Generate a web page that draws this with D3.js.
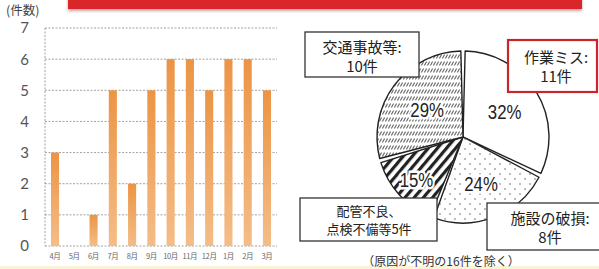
<!DOCTYPE html>
<html>
<head>
<meta charset="utf-8">
<script src="https://cdn.jsdelivr.net/npm/d3@7"></script>
<style>
  body { margin: 0; background: #fff; }
  svg { display: block; }
</style>
</head>
<body>
<svg id="chart" width="599" height="269"></svg>
<script>
// monthly counts
const months = ['4月', '5月', '6月', '7月', '8月', '9月', '10月', '11月', '12月', '1月', '2月', '3月'];
const counts = [3, 0, 1, 5, 2, 5, 6, 6, 5, 6, 6, 5];
const yTicks = [0, 1, 2, 3, 4, 5, 6, 7];

// causes (pie), clockwise from 12 o'clock
const causes = ['作業ミス', '施設の破損', '配管不良、点検不備等', '交通事故等'];
const causeCounts = [11, 8, 5, 10];
const causeFills = ['#fff', 'url(#dots)', 'url(#heavy)', 'url(#light)'];
const labelDist = [49, 50, 63, 45];

const svg = d3.select('#chart');
const defs = svg.append('defs');

// bar gradient
const grad = defs.append('linearGradient').attr('id', 'barGrad')
    .attr('x1', 0).attr('y1', 0).attr('x2', 0).attr('y2', 1);
grad.append('stop').attr('offset', '0%').attr('stop-color', '#ec9444');
grad.append('stop').attr('offset', '100%').attr('stop-color', '#f4bd88');

// patterns
const dots = defs.append('pattern').attr('id', 'dots').attr('patternUnits', 'userSpaceOnUse')
    .attr('width', 10).attr('height', 10);
dots.append('rect').attr('width', 10).attr('height', 10).attr('fill', '#fff');
dots.append('circle').attr('cx', 2).attr('cy', 2).attr('r', 0.8).attr('fill', '#666');
dots.append('circle').attr('cx', 7).attr('cy', 7).attr('r', 0.8).attr('fill', '#666');

const heavy = defs.append('pattern').attr('id', 'heavy').attr('patternUnits', 'userSpaceOnUse')
    .attr('width', 7).attr('height', 7).attr('patternTransform', 'rotate(40)');
heavy.append('rect').attr('width', 7).attr('height', 7).attr('fill', '#fff');
heavy.append('rect').attr('x', 0).attr('width', 3.2).attr('height', 7).attr('fill', '#222');

const light = defs.append('pattern').attr('id', 'light').attr('patternUnits', 'userSpaceOnUse')
    .attr('width', 3).attr('height', 7);
light.append('rect').attr('width', 3).attr('height', 7).attr('fill', '#fff');
light.append('line').attr('x1', 0.4).attr('y1', 5.5).attr('x2', 2.6).attr('y2', 1.5)
    .attr('stroke', '#6a6a6a').attr('stroke-width', 1.1);

const shadow = defs.append('filter').attr('id', 'shadow')
    .attr('x', '-5%').attr('y', '-50%').attr('width', '110%').attr('height', '250%');
shadow.append('feDropShadow').attr('dx', 0).attr('dy', 2).attr('stdDeviation', 1.6)
    .attr('flood-color', '#b88').attr('flood-opacity', 0.8);

// red banner at top
svg.append('rect')
    .attr('x', 68).attr('y', -6).attr('width', 514).attr('height', 15)
    .attr('fill', '#d8282b').attr('filter', 'url(#shadow)');

// faint strip at bottom
svg.append('rect').attr('x', 0).attr('y', 266).attr('width', 599).attr('height', 3)
    .attr('fill', '#fbf3d6');

// ---------- bar chart ----------
const x = d3.scaleBand().domain(months).range([45, 277])
    .paddingInner(0.58).paddingOuter(0.31);
const y = d3.scaleLinear().domain([0, 7]).range([246, 28]);

const gBar = svg.append('g');

gBar.selectAll('line.grid').data(yTicks).join('line')
    .attr('class', 'grid')
    .attr('x1', 45).attr('x2', 277)
    .attr('y1', d => y(d)).attr('y2', d => y(d))
    .attr('stroke', '#8a8a8a').attr('stroke-width', 0.8)
    .attr('stroke-dasharray', '2,1.5');

gBar.append('line')
    .attr('x1', 45).attr('x2', 45).attr('y1', y(7)).attr('y2', y(0))
    .attr('stroke', '#8a8a8a').attr('stroke-width', 0.8)
    .attr('stroke-dasharray', '2,1.5');

gBar.selectAll('rect.bar').data(counts).join('rect')
    .attr('class', 'bar')
    .attr('x', (d, i) => x(months[i]))
    .attr('width', x.bandwidth())
    .attr('y', d => y(d))
    .attr('height', d => y(0) - y(d))
    .attr('fill', 'url(#barGrad)');

gBar.selectAll('text.ytick').data(yTicks).join('text')
    .attr('class', 'ytick')
    .attr('x', 29).attr('y', d => y(d)).attr('dy', '0.36em')
    .attr('text-anchor', 'end')
    .attr('font-family', 'Lato, "Open Sans", sans-serif')
    .attr('font-size', 15).attr('fill', '#555')
    .text(d => d);

gBar.selectAll('text.month').data(months).join('text')
    .attr('class', 'month')
    .attr('x', d => x(d) + x.bandwidth() / 2).attr('y', 259)
    .attr('text-anchor', 'middle')
    .attr('font-family', '"Noto Sans CJK JP", sans-serif')
    .attr('font-size', 7.5).attr('fill', '#666')
    .attr('letter-spacing', -0.4)
    .text(d => d);

gBar.append('text')
    .attr('x', 6).attr('y', 15)
    .attr('font-family', '"Noto Sans CJK JP", sans-serif')
    .attr('font-size', 12.5).attr('fill', '#444')
    .text('(件数)');

// ---------- pie ----------
const cx = 463, cy = 137, r = 86;
const total = d3.sum(causeCounts);
const pie = d3.pie().sort(null).value(d => d)(causeCounts);
const arc = d3.arc().innerRadius(0).outerRadius(r).padAngle(0.05).padRadius(r);

const gPie = svg.append('g').attr('transform', `translate(${cx},${cy})`);
gPie.selectAll('path').data(pie).join('path')
    .attr('d', arc)
    .attr('fill', (d, i) => causeFills[i])
    .attr('stroke', '#222').attr('stroke-width', 1.4)
    .attr('stroke-linejoin', 'round');

gPie.selectAll('text').data(pie).join('text')
    .attr('transform', (d, i) => {
        const a = (d.startAngle + d.endAngle) / 2;
        return `translate(${Math.sin(a) * labelDist[i]},${-Math.cos(a) * labelDist[i]}) scale(0.8,1)`;
    })
    .attr('text-anchor', 'middle').attr('dy', '0.36em')
    .attr('font-family', '"Liberation Sans", Arial, sans-serif')
    .attr('font-size', 21).attr('fill', '#222')
    .attr('stroke', '#fff').attr('stroke-width', 5).attr('paint-order', 'stroke')
    .text(d => Math.round(d.value / total * 100) + '%');

// ---------- callout boxes ----------
const jp = '"Noto Sans CJK JP", sans-serif';
function box(x0, y0, w, h, color, sw, lines, tx, ty, lh, fs) {
    svg.append('rect').attr('x', x0).attr('y', y0).attr('width', w).attr('height', h)
        .attr('fill', '#fff').attr('stroke', color).attr('stroke-width', sw);
    svg.append('text').attr('font-family', jp).attr('font-size', fs).attr('fill', '#222')
        .attr('text-anchor', 'middle')
        .selectAll('tspan').data(lines).join('tspan')
        .attr('x', tx).attr('y', (d, i) => ty + i * lh)
        .text(d => d);
}

box(305, 32, 114, 45, '#333', 1.3, [causes[3] + ':', causeCounts[3] + '件'], 362, 53, 19, 15);
box(508, 40, 89, 52, '#c9262b', 2.2, [causes[0] + ':', causeCounts[0] + '件'], 556, 63, 19, 15);
box(300, 198, 137, 43, '#333', 1.3, ['配管不良、', '点検不備等' + causeCounts[2] + '件'], 369, 216, 18, 13);
box(487, 203, 130, 47, '#333', 1.3, ['施設の破損:', causeCounts[1] + '件'], 550, 224, 19, 15);

svg.append('text')
    .attr('x', 441).attr('y', 266)
    .attr('text-anchor', 'middle')
    .attr('font-family', jp).attr('font-size', 12).attr('fill', '#333')
    .text('（原因が不明の16件を除く）');
</script>
</body>
</html>
